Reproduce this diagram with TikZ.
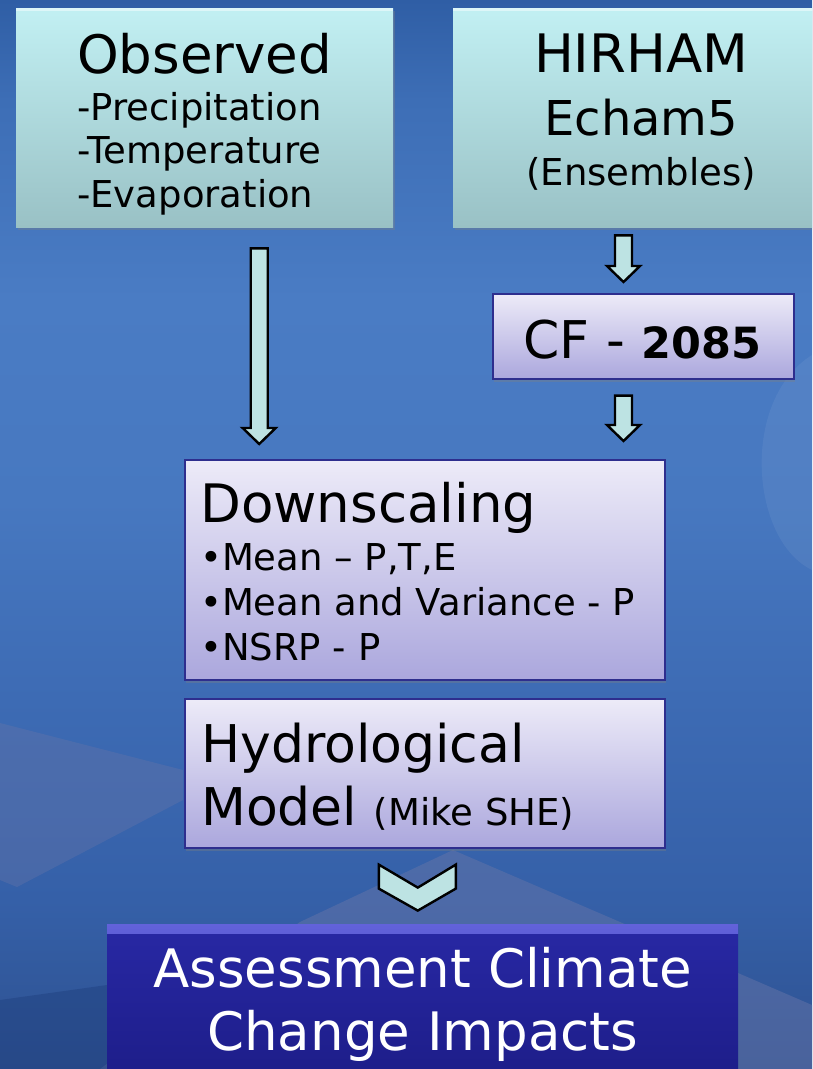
\documentclass[tikz,border=0pt]{standalone}
\usepackage{fontspec}
\setmainfont{DejaVu Sans}
\usetikzlibrary{calc,shadows,positioning}
\definecolor{haze}{HTML}{6574A8}
\definecolor{deepNavy}{HTML}{1F3F7E}
\definecolor{aquaTop}{HTML}{C2F0F3}
\definecolor{aquaLow}{HTML}{99C1C5}
\definecolor{lilacTop}{HTML}{EDEBF8}
\definecolor{lilacLow}{HTML}{ABA7DD}
\definecolor{lilacLine}{HTML}{2E2E8E}
\definecolor{navyTop}{HTML}{2828A4}
\definecolor{navyLow}{HTML}{1C1C86}
\definecolor{navyEdge}{HTML}{6262DA}
\definecolor{arrowFill}{HTML}{BDE3E3}
\pgfdeclareverticalshading{slideback}{100bp}{%
  color(0bp)=(rgb,255:red,46;green,81;blue,144);
  color(25bp)=(rgb,255:red,46;green,81;blue,144);
  color(32.9bp)=(rgb,255:red,53;green,96;blue,168);
  color(42.3bp)=(rgb,255:red,61;green,107;blue,180);
  color(51.6bp)=(rgb,255:red,71;green,120;blue,192);
  color(61bp)=(rgb,255:red,74;green,124;blue,196);
  color(70.3bp)=(rgb,255:red,61;green,110;blue,182);
  color(75bp)=(rgb,255:red,47;green,94;blue,165);
  color(100bp)=(rgb,255:red,47;green,94;blue,165)}
\newcommand{\BlockArrow}[2]{%
  \draw[blockarrow] let \p1=(#1), \p2=(#2) in
    (\x1-8.5pt,\y1) -- (\x1+8.5pt,\y1) -- (\x1+8.5pt,\y2+16pt) -- (\x1+16.5pt,\y2+16pt)
    -- (\x1,\y2) -- (\x1-16.5pt,\y2+16pt) -- (\x1-8.5pt,\y2+16pt) -- cycle;}

\begin{document}
\begin{tikzpicture}[x=1pt,y=1pt,
  aquabox/.style={rectangle,inner sep=0pt,anchor=north west,top color=aquaTop,bottom color=aquaLow,
    drop shadow={opacity=0.35,shadow xshift=1.5pt,shadow yshift=-3pt},
    path picture={\fill[white,opacity=0.45] (path picture bounding box.north west) rectangle ([yshift=-3pt]path picture bounding box.north east);}},
  lilacbox/.style={rectangle,inner sep=0pt,anchor=north west,draw=lilacLine,line width=1.6pt,
    top color=lilacTop,bottom color=lilacLow,drop shadow={opacity=0.35,shadow xshift=1.5pt,shadow yshift=-3pt}},
  navybox/.style={rectangle,inner sep=0pt,anchor=north west,top color=navyTop,bottom color=navyLow,
    path picture={\shade[top color=navyEdge,bottom color=navyTop] (path picture bounding box.north west) rectangle ([yshift=-9pt]path picture bounding box.north east);}},
  boxtext/.style={inner sep=0pt,text=black},
  blockarrow/.style={draw=black,line width=2.4pt,fill=arrowFill,line join=miter}]

\useasboundingbox (0,0) rectangle (812,-1069);
\path[clip] (0,0) rectangle (812,-1069);

\shade[shading=slideback] (0,0) rectangle (812,-1069);
\fill[haze,opacity=0.4] (0,-723) -- (183,-770) -- (183,-800) -- (17,-887) -- (0,-880) -- cycle;
\fill[haze,opacity=0.5] (100,-1069) -- (300,-922) -- (453,-850) -- (620,-922) -- (812,-1005) -- (812,-1069) -- cycle;
\fill[deepNavy,opacity=0.45] (0,-1000) -- (107,-985) -- (107,-1069) -- (0,-1069) -- cycle;
\fill[white,opacity=0.06] (812,-355) .. controls (740,-400) and (750,-540) .. (812,-570) -- cycle;

\node[aquabox,minimum width=377pt,minimum height=219pt] (obs) at (16,-8) {};
\node[aquabox,minimum width=376pt,minimum height=219pt] (hir) at (453,-8) {};
\node[lilacbox,minimum width=301pt,minimum height=85pt] (cf) at (492,-293) {};
\node[lilacbox,minimum width=480pt,minimum height=220pt] (dsc) at (184,-459) {};
\node[lilacbox,minimum width=480pt,minimum height=149pt] (hyd) at (184,-698) {};
\node[navybox,minimum width=631pt,minimum height=170pt] (ass) at (107,-924) {};

\node[boxtext,anchor=north,align=left,font=\fontsize{37}{43.5}\selectfont] (obstxt) at ($(obs.north)+(0,-24.7)$)
  {{\fontsize{53}{53}\selectfont Observed}\\[3.5pt]-Precipitation\\-Temperature\\-Evaporation};
\node[boxtext,anchor=north,align=center,font=\fontsize{37}{43.5}\selectfont] (hirtxt) at ($(hir.north)+(0,-25.4)$)
  {{\fontsize{53}{53}\selectfont HIRHAM}\\[19.5pt]{\fontsize{48}{48}\selectfont Echam5}\\[6.5pt](Ensembles)};
\node[boxtext,anchor=base,font=\fontsize{52}{52}\selectfont] (cftxt) at ($(cf.south)+(-1,21)$)
  {CF - {\fontsize{43}{43}\selectfont\bfseries 2085}};
\node[boxtext,anchor=north west,align=left,font=\fontsize{37}{45}\selectfont] (dsctxt) at ($(dsc.north west)+(16,-22.7)$)
  {{\fontsize{53}{53}\selectfont Downscaling}\\[3pt]•Mean – P,T,E\\•Mean and Variance - P\\•NSRP - P};
\node[boxtext,anchor=north west,align=left,font=\fontsize{52}{63}\selectfont] (hydtxt) at ($(hyd.north west)+(17,-24.5)$)
  {Hydrological\\Model {\fontsize{37}{37}\selectfont (Mike SHE)}};
\node[boxtext,anchor=north,align=center,text=white,font=\fontsize{53}{63}\selectfont] (asstxt) at ($(ass.north)+(0,-22.7)$)
  {Assessment Climate\\Change Impacts};

\coordinate (a1top) at ($(obs.south)+(54.5,-21)$);
\coordinate (a1bot) at ($(a1top |- dsc.north)+(0,15)$);
\coordinate (a2top) at ($(hir.south west)+(170.5,-8)$);
\coordinate (a2bot) at ($(a2top |- cf.north)+(0,11)$);
\coordinate (a3top) at ($(a2top |- cf.south)+(0,-16)$);
\coordinate (a3bot) at ($(a3top |- dsc.north)+(0,18)$);
\BlockArrow{a1top}{a1bot}
\BlockArrow{a2top}{a2bot}
\BlockArrow{a3top}{a3bot}

\coordinate (chv) at ($(hyd.south)+(-7,-62)$);
\draw[blockarrow] (chv) -- ++(-39,22) -- ++(0,24) -- ++(39,-23) -- ++(38,23) -- ++(0,-24) -- cycle;
\end{tikzpicture}
\end{document}
